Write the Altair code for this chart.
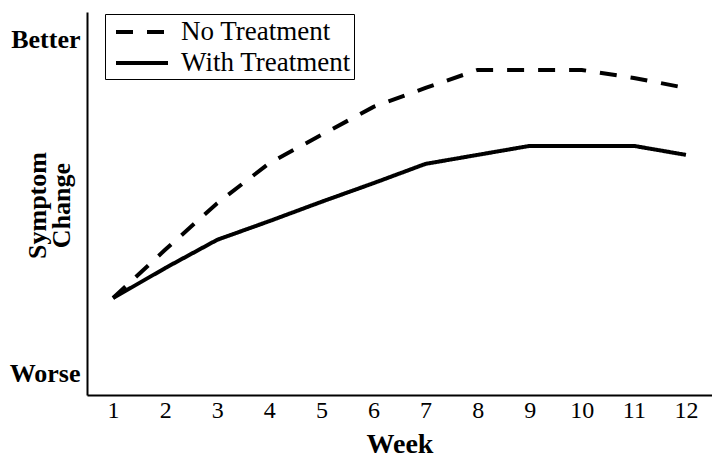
import altair as alt
import pandas as pd

weeks = list(range(1, 13))
no_treatment = [2.25, 3.7, 5.1, 6.3, 7.15, 7.99, 8.56, 9.1, 9.1, 9.1, 8.86, 8.56]
with_treatment = [2.25, 3.15, 4.0, 4.56, 5.14, 5.7, 6.28, 6.55, 6.82, 6.82, 6.82, 6.55]
series_names = ["No Treatment", "With Treatment"]

rows = []
for w, v in zip(weeks, no_treatment):
    rows.append({"Week": w, "Value": v, "Series": series_names[0]})
for w, v in zip(weeks, with_treatment):
    rows.append({"Week": w, "Value": v, "Series": series_names[1]})
df = pd.DataFrame(rows)

FONT = "Liberation Serif, Times New Roman, serif"

chart = alt.Chart(df).mark_line(color="black", strokeWidth=4).encode(
    x=alt.X("Week:Q",
            scale=alt.Scale(domain=[0.5, 12.5], nice=False, zero=False),
            axis=alt.Axis(values=weeks, title="Week", ticks=False, grid=False,
                          domainColor="black", domainWidth=2,
                          labelFont=FONT, labelFontSize=24, labelColor="black",
                          labelPadding=3, labelFlush=False,
                          titleFont=FONT, titleFontSize=28, titleFontWeight="bold",
                          titleColor="black", titlePadding=8)),
    y=alt.Y("Value:Q",
            scale=alt.Scale(domain=[-0.66, 10.84], nice=False, zero=False),
            axis=alt.Axis(values=[0, 10],
                          labelExpr="datum.value == 10 ? 'Better' : 'Worse'",
                          title=["Symptom", "Change"], ticks=False, grid=False,
                          domainColor="black", domainWidth=2,
                          labelFont=FONT, labelFontSize=26, labelFontWeight="bold",
                          labelColor="black", labelPadding=7,
                          titleFont=FONT, titleFontSize=26, titleFontWeight="bold",
                          titleColor="black", titleX=-37, titleY=193,
                          titleLineHeight=24, titleAngle=-90)),
    strokeDash=alt.StrokeDash("Series:N",
                              scale=alt.Scale(domain=series_names,
                                              range=[[17, 14], [1, 0]]),
                              legend=alt.Legend(title=None, orient="none",
                                                legendX=18, legendY=2,
                                                strokeColor="black",
                                                padding=3,
                                                symbolType="M-2,0L2,0",
                                                symbolSize=676,
                                                symbolOffset=19,
                                                symbolStrokeWidth=4,
                                                symbolStrokeColor="black",
                                                labelFont=FONT, labelFontSize=27,
                                                labelColor="black",
                                                labelOffset=24,
                                                labelLimit=400,
                                                rowPadding=3,
                                                fillColor="white")),
).properties(
    width=625, height=383,
    autosize=alt.AutoSizeParams(type="none"),
    padding={"left": 79, "top": 4, "right": 0, "bottom": 67},
).configure_view(stroke=None)

chart.save("out.html", embed_options={"renderer": "svg", "actions": False})
